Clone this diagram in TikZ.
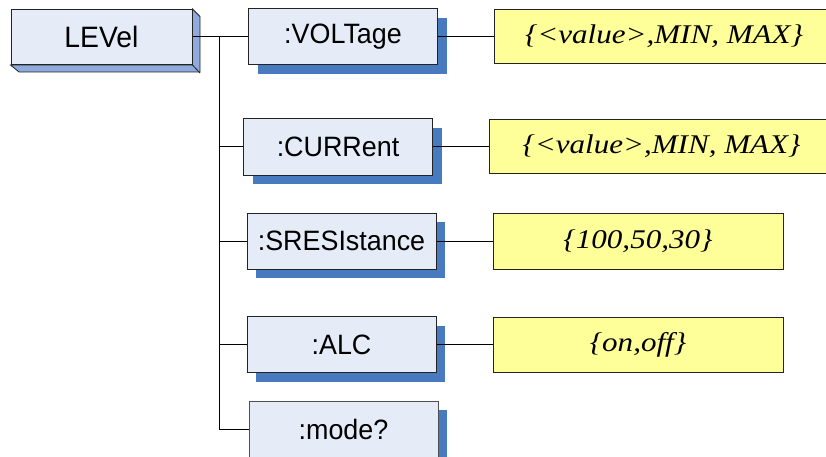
\documentclass[tikz,border=0pt]{standalone}
\usepackage{fontspec}
\setmainfont{Liberation Sans}
\newfontfamily\yfont[FakeStretch=1.15]{Liberation Serif}
\newfontfamily\nfont[FakeStretch=0.96]{Liberation Sans}
\usetikzlibrary{shadows}
\definecolor{boxfill}{RGB}{230,236,247}
\definecolor{shadowblue}{RGB}{72,122,192}
\definecolor{sideblue}{RGB}{143,170,220}
\definecolor{yel}{RGB}{255,255,153}
\definecolor{edge}{RGB}{35,35,35}
\tikzset{
  cmdbox/.style={draw=edge, line width=1pt, fill=boxfill, inner sep=0pt,
    minimum width=189pt, minimum height=56pt,
    font=\nfont\fontsize{28}{30}\selectfont,
    drop shadow={shadow xshift=9pt, shadow yshift=-9pt, fill=shadowblue, opacity=1}},
  rootbox/.style={draw=edge, line width=1pt, fill=boxfill, inner sep=0pt,
    minimum width=181pt, minimum height=55pt, font=\nfont\fontsize{29.5}{31}\selectfont},
  valbox/.style={draw=edge, line width=1pt, fill=yel, inner sep=0pt,
    minimum height=54pt, font=\yfont\itshape\fontsize{27}{29}\selectfont},
  conn/.style={draw=black, line width=1pt}
}
\begin{document}
\begin{tikzpicture}[x=1pt, y=-1pt]
\useasboundingbox (0,0) rectangle (826,457);
% root 3D box
\node[rootbox] (L) at (101.5,37) {LEVel};
\fill[sideblue, draw=edge, line width=0.8pt] (L.north east) -- ++(7.5,7.5) -- ++(0,55.5) -- ++(-181,0) -- (L.south west) -- (L.south east) -- cycle;
\draw[edge, line width=0.8pt] (L.south east) -- ++(7.5,8);
\node[rootbox] at (L) {LEVel};
% command boxes
\node[cmdbox] (V) at (343,37) {:VOLTage};
\node[cmdbox] (C) at (338,147) {:CURRent};
\node[cmdbox] (S) at (341.5,241) {:SRESIstance};
\node[cmdbox] (A) at (341.5,344.5) {:ALC};
\node[cmdbox, draw=edge!80] (M) at (343.5,429) {:mode?};
% value boxes
\node[valbox, minimum width=340pt] (Y1) at (664,36.5) {\{<value>,MIN, MAX\}};
\node[valbox, minimum width=345pt] (Y2) at (661.5,146.5) {\{<value>,MIN, MAX\}};
\node[valbox, minimum width=290pt, minimum height=56pt] (Y3) at (638,241) {\{100,50,30\}};
\node[valbox, minimum width=290pt, minimum height=55pt] (Y4) at (638,344.5) {\{on,off\}};
% connectors
\coordinate (tr) at (219,37);
\draw[conn] (L.east) -- (V.west);
\draw[conn] (tr) |- (C.west);
\draw[conn] (tr) |- (S.west);
\draw[conn] (tr) |- (A.west);
\draw[conn] (tr) |- (M.west);
\draw[conn] (V.east) -- (Y1.west |- V.east);
\draw[conn] (C.east) -- (Y2.west |- C.east);
\draw[conn] (S.east) -- (Y3.west);
\draw[conn] (A.east) -- (Y4.west);
\end{tikzpicture}
\end{document}
